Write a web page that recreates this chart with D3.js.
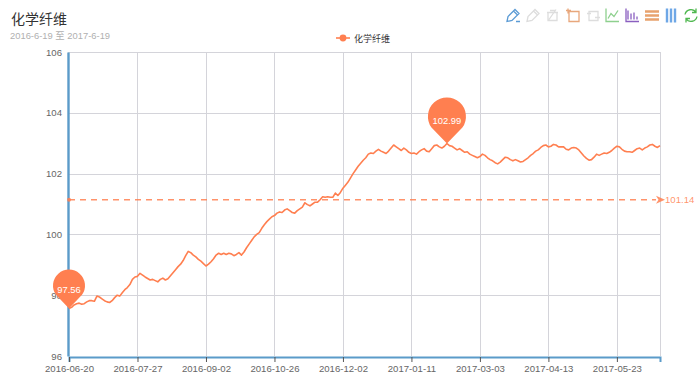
<!DOCTYPE html>
<html><head><meta charset="utf-8">
<script src="https://cdn.jsdelivr.net/npm/d3@7"></script>
<style>
html,body{margin:0;padding:0;background:#fff}
svg{display:block;font-family:"Liberation Sans",Arial,sans-serif}
</style></head><body>
<div id="chart"></div>
<script>
const title = "化学纤维";
const subtitle = "2016-6-19 至 2017-6-19";
const seriesName = "化学纤维";
const xTickLabels = ["2016-06-20","2016-07-27","2016-09-02","2016-10-26","2016-12-02","2017-01-11","2017-03-03","2017-04-13","2017-05-23"];
const yTicks = [96,98,100,102,104,106];
const values = [
97.56,97.60,97.68,97.72,97.74,97.70,97.72,97.78,97.82,97.82,97.80,97.97,97.94,97.88,97.82,97.78,97.76,97.82,97.92,98.00,
97.97,98.08,98.18,98.25,98.35,98.52,98.60,98.62,98.72,98.66,98.60,98.55,98.50,98.52,98.48,98.44,98.52,98.56,98.50,98.54,
98.64,98.74,98.84,98.94,99.02,99.14,99.30,99.44,99.40,99.32,99.26,99.18,99.12,99.04,98.96,99.02,99.10,99.20,99.32,99.38,
99.34,99.38,99.34,99.38,99.36,99.30,99.34,99.40,99.32,99.42,99.56,99.68,99.80,99.92,100.00,100.06,100.20,100.32,100.42,100.50,
100.58,100.62,100.70,100.74,100.72,100.80,100.84,100.78,100.72,100.70,100.78,100.84,100.90,101.04,100.98,100.94,101.00,101.06,101.06,101.14,
101.24,101.22,101.24,101.22,101.22,101.36,101.28,101.38,101.52,101.62,101.72,101.86,102.00,102.12,102.24,102.34,102.44,102.52,102.64,102.68,
102.66,102.74,102.80,102.74,102.70,102.66,102.74,102.84,102.94,102.88,102.82,102.76,102.84,102.78,102.70,102.66,102.68,102.64,102.72,102.78,
102.82,102.74,102.72,102.82,102.92,102.94,102.88,102.84,102.90,102.99,102.92,102.90,102.84,102.78,102.82,102.76,102.70,102.72,102.64,102.60,
102.56,102.52,102.56,102.64,102.60,102.52,102.46,102.42,102.36,102.32,102.38,102.46,102.54,102.52,102.46,102.42,102.46,102.42,102.38,102.40,
102.46,102.52,102.60,102.66,102.74,102.78,102.86,102.92,102.94,102.88,102.90,102.96,102.94,102.88,102.88,102.88,102.80,102.78,102.84,102.86,
102.84,102.78,102.68,102.58,102.50,102.44,102.46,102.54,102.64,102.60,102.64,102.68,102.66,102.70,102.76,102.84,102.90,102.88,102.80,102.74,
102.72,102.72,102.70,102.76,102.82,102.84,102.78,102.84,102.88,102.94,102.96,102.90,102.86,102.92];
const averageValue = 101.14;
const tickEvery = 27;
const color = "#ff7f50";

const svg = d3.select("#chart").append("svg").attr("width",700).attr("height",385);
const x = d3.scaleLinear().domain([0,values.length-1]).range([69,660]);
const y = d3.scaleLinear().domain([96,106]).range([356,52]);
const xTickVals = xTickLabels.map((d,i)=>i*tickEvery);

// grid
const grid = svg.append("g").attr("stroke","#d4d4da").attr("stroke-width",1);
grid.selectAll("line.h").data(yTicks.filter(d=>d>96)).join("line").attr("class","h")
  .attr("x1",68).attr("x2",660).attr("y1",d=>Math.round(y(d))+.5).attr("y2",d=>Math.round(y(d))+.5);
grid.selectAll("line.v").data(xTickVals.slice(1).concat([values.length-1])).join("line").attr("class","v")
  .attr("x1",d=>Math.round(x(d))+.5).attr("x2",d=>Math.round(x(d))+.5).attr("y1",52).attr("y2",356);

// axes
const xAxis = svg.append("g").attr("transform","translate(0,357)")
  .call(d3.axisBottom(x).tickValues(xTickVals).tickFormat((d,i)=>xTickLabels[i]).tickSizeOuter(0).tickSize(5).tickPadding(3));
xAxis.select(".domain").attr("stroke","#5b9bc9").attr("stroke-width",2);
xAxis.selectAll(".tick line").attr("stroke","#555");
xAxis.selectAll("text").attr("fill","#666").attr("font-size",9.6).attr("font-family",'"Liberation Sans"');
const yAxis = svg.append("g").attr("transform","translate(68,0)")
  .call(d3.axisLeft(y).tickValues(yTicks).tickFormat(d3.format("d")).tickSize(0).tickPadding(6));
yAxis.select(".domain").attr("stroke","#5b9bc9").attr("stroke-width",2.4);
yAxis.selectAll("text").attr("fill","#666").attr("font-size",9.6).attr("font-family",'"Liberation Sans"');

// average mark line
const avgY = y(averageValue);
svg.append("line").attr("x1",x(0)).attr("x2",x(values.length-1)-4).attr("y1",avgY).attr("y2",avgY)
  .attr("stroke",color).attr("stroke-opacity",.85).attr("stroke-width",1.4).attr("stroke-dasharray","6,5");
svg.append("circle").attr("cx",x(0)).attr("cy",avgY).attr("r",2).attr("fill",color).attr("fill-opacity",.85);
svg.append("path").attr("transform",`translate(${x(values.length-1)},${avgY})`)
  .attr("d","M-4,-4L5,0L-4,4L-1.5,0Z").attr("fill",color).attr("fill-opacity",.85);
svg.append("text").attr("x",665).attr("y",avgY+3.5).attr("fill",color).attr("fill-opacity",.85).attr("font-size",9.6).text(averageValue.toFixed(2));

// series
svg.append("path").datum(values)
  .attr("d",d3.line().x((d,i)=>x(i)).y(d=>y(d)))
  .attr("fill","none").attr("stroke",color).attr("stroke-width",1.6).attr("stroke-linejoin","round");

// pins
function pin(idx,r,h){
  const tx=x(idx), ty=y(values[idx]);
  const cy=ty-h+r;
  const a=0.62;
  const sx=r*Math.cos(a), sy=r*Math.sin(a);
  const g=svg.append("g");
  g.append("path").attr("fill",color)
   .attr("d",`M${tx},${ty}L${tx-sx},${cy+sy}A${r},${r} 0 1 1 ${tx+sx},${cy+sy}Z`);
  g.append("text").attr("x",tx).attr("y",cy+7.3).attr("text-anchor","middle")
   .attr("fill","#fff").attr("font-size",9.4).text(values[idx].toFixed(2));
}
pin(d3.range(values.length).reduce((a,b)=>values[b]<values[a]?b:a,0),16,39);
pin(d3.range(values.length).reduce((a,b)=>values[b]>values[a]?b:a,0),19,46);

// title
svg.append("text").attr("x",11).attr("y",24).attr("fill","#333").attr("font-size",14)
  .attr("font-family",'"Noto Sans CJK SC"').attr("font-weight",400).text(title);
svg.append("text").attr("x",10).attr("y",38.5).attr("fill","#b0b0b0").attr("font-size",9.4)
  .attr("font-family",'"Liberation Sans","Noto Sans CJK SC"').text(subtitle);

// legend
svg.append("line").attr("x1",336).attr("x2",350).attr("y1",38).attr("y2",38).attr("stroke",color).attr("stroke-width",1.6);
svg.append("circle").attr("cx",343).attr("cy",38).attr("r",3.4).attr("fill",color);
svg.append("text").attr("x",354).attr("y",41.5).attr("fill","#333").attr("font-size",9)
  .attr("font-family",'"Noto Sans CJK SC"').text(seriesName);

// toolbox
const icons = [
 {c:"#5b9bd5",x:513,d:"M-6,6L-5,1L2,-6L6,-2L-1,5ZM1,-4L4,-1M3,6H7"},
 {c:"#dddddd",x:533,d:"M-6,6L-5,1L2,-6L6,-2L-1,5ZM1,-4L4,-1"},
 {c:"#dddddd",x:552,d:"M-5,-3H6M-4,-3V5H5V-3M-2,-5H3M-3,4L4,-6"},
 {c:"#e8a77c",x:573,d:"M-4,-4H6V6H-4ZM-7,-5H-2M-5,-7V-2"},
 {c:"#dddddd",x:593,d:"M-4,-4H5V5H-4ZM-6,-2H-2M2,2H7"},
 {c:"#8ed08e",x:612,d:"M-6,-7V6H7M-4,3L-1,-2L2,1L6,-5"},
 {c:"#8a5fc0",x:632,d:"M-6,-7V6H7M-4,4V-5M-1,4V-2M2,4V-3M5,4V1"},
 {c:"#e8a26e",x:652,d:"M-7,-4H7M-7,0H7M-7,4H7"},
 {c:"#6ea7e6",x:671,d:"M-4,-7V7M0,-7V7M4,-7V7"},
 {c:"#4fb84f",x:691,d:"M-6,-1A6,6 0 0 1 5,-3M6,1A6,6 0 0 1 -5,3M5,-7V-3H1M-5,7V3H-1"}
];
svg.append("g").selectAll("path").data(icons).join("path")
  .attr("transform",d=>`translate(${d.x},15.5)`).attr("d",d=>d.d).attr("fill","none")
  .attr("stroke",d=>d.c).attr("stroke-width",(d,i)=>(i===7||i===8)?2.4:1.3);
</script>
</body></html>
